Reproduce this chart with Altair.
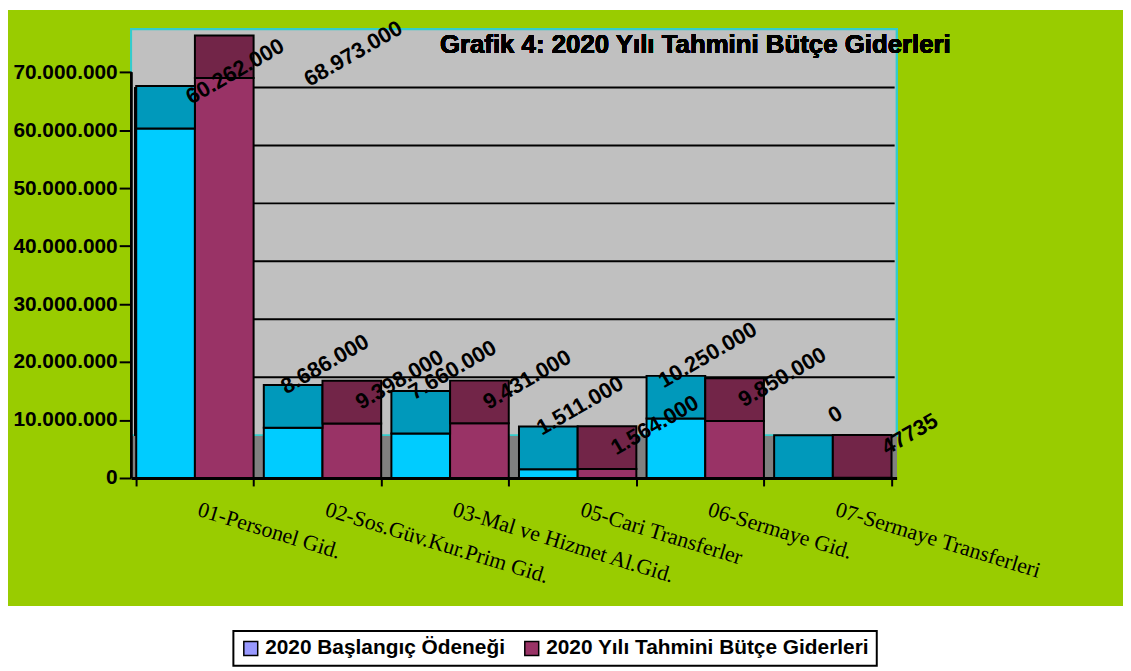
import math
import altair as alt
import pandas as pd

CATEGORIES = [
    "01-Personel Gid.",
    "02-Sos.Güv.Kur.Prim Gid.",
    "03-Mal ve Hizmet Al.Gid.",
    "05-Cari Transferler",
    "06-Sermaye Gid.",
    "07-Sermaye Transferleri",
]
SERIES = ["2020 Başlangıç Ödeneği", "2020 Yılı Tahmini Bütçe Giderleri"]
BASLANGIC = [60262000, 8686000, 7660000, 1511000, 10250000, 0]
TAHMINI = [68973000, 9398000, 9431000, 1564000, 9850000, 47735]
BASLANGIC_LABELS = ["60.262.000", "8.686.000", "7.660.000", "1.511.000", "10.250.000", "0"]
TAHMINI_LABELS = ["68.973.000", "9.398.000", "9.431.000", "1.564.000", "9.850.000", "47735"]
Y_TICKS = [0, 10000000, 20000000, 30000000, 40000000, 50000000, 60000000, 70000000]
TITLE = "Grafik 4: 2020 Yılı Tahmini Bütçe Giderleri"

# ---- styling ----
W, H = 771, 452
YMAX = 77400000
DEPTH_PX = 43
DEPTH = DEPTH_PX * YMAX / H
LABEL_CAP = 60000000          # labels higher than this slide right to stay inside the chart
FRONT = ["#00CCFF", "#993366"]
TOP = ["#0099BB", "#722548"]
LEGEND = ["#9999FF", "#993366"]
SANS = "Liberation Sans"
SERIF = "Liberation Serif"

rows = []
for i, c in enumerate(CATEGORIES):
    rows.append({"category": c, "series": SERIES[0], "value": BASLANGIC[i], "label": BASLANGIC_LABELS[i]})
    rows.append({"category": c, "series": SERIES[1], "value": TAHMINI[i], "label": TAHMINI_LABELS[i]})
df = pd.DataFrame(rows)

grid_df = pd.DataFrame({"tick": Y_TICKS[1:-1]})

yscale = alt.Scale(domain=[0, YMAX], nice=False, zero=True)
xscale = alt.Scale(domain=CATEGORIES, paddingInner=0.08, paddingOuter=0.04)
oscale = alt.Scale(domain=SERIES)

X = alt.X("category:N", scale=xscale, sort=CATEGORIES, title=None,
          axis=alt.Axis(labelFont=SERIF, labelFontSize=22, labelAngle=17, labelAlign="left",
                        labelBaseline="top", labelPadding=13, labelOffset=6, labelColor="black",
                        labelLimit=400, tickColor="black", tickSize=8, tickWidth=2,
                        tickBand="extent", domainColor="black", domainWidth=3, grid=False,
                        zindex=1))
XO = alt.XOffset("series:N", scale=oscale, sort=SERIES)

base = alt.Chart(df)

bg = alt.Chart(df).mark_rect(color="#99CC00").encode(
    x=alt.value(-124), x2=alt.value(W + 228), y=alt.value(-19), y2=alt.value(581))

wall = alt.Chart(df).mark_rect(fill="#C0C0C0", stroke="#33CCCC", strokeWidth=2).encode(
    x=alt.value(0), x2=alt.value(W), y=alt.value(0), y2=alt.value(H - DEPTH_PX))

floor = alt.Chart(df).mark_rect(fill="#808080").encode(
    x=alt.value(0), x2=alt.value(W), y=alt.value(H - DEPTH_PX + 1), y2=alt.value(H))

grid = alt.Chart(grid_df).transform_calculate(gy=f"datum.tick + {DEPTH}").mark_rule(
    color="black", strokeWidth=2).encode(
    y=alt.Y("gy:Q", scale=yscale, title=None), x=alt.value(5), x2=alt.value(W - 2))

sidewall = alt.Chart(df).mark_rule(color="black", strokeWidth=2).encode(
    x=alt.value(4), y=alt.value(59), y2=alt.value(H - DEPTH_PX))

yaxis_line = alt.Chart(df).mark_rule(color="black", strokeWidth=2).encode(
    x=alt.value(0), y=alt.datum(Y_TICKS[-1]), y2=alt.datum(0))

front = base.mark_bar(stroke="black", strokeWidth=2, opacity=1).encode(
    x=X, xOffset=XO,
    y=alt.Y("value:Q", scale=yscale, title=None,
            axis=alt.Axis(values=Y_TICKS, format=",d", labelFont=SANS, labelFontSize=21,
                          labelFontWeight="bold", labelColor="black", tickColor="black",
                          tickSize=12, tickWidth=2, domain=False, grid=False, labelPadding=2,
                          zindex=1)),
    y2=alt.datum(0),
    color=alt.Color("series:N", scale=alt.Scale(domain=SERIES, range=FRONT), legend=None),
)

top = base.transform_calculate(topv=f"datum.value + {DEPTH}").mark_bar(
    stroke="black", strokeWidth=2, opacity=1).encode(
    x=X, xOffset=XO,
    y=alt.Y("value:Q", scale=yscale, title=None),
    y2="topv:Q",
    color=alt.Color("series:N", scale=alt.Scale(domain=SERIES, range=TOP), legend=None),
)


def rot(sx, sy, ang=-30):
    """screen offset -> offset in the rotated text frame"""
    a = math.radians(ang)
    return sx * math.cos(a) + sy * math.sin(a), -sx * math.sin(a) + sy * math.cos(a)


LABEL_ANGLE = 330
labels = []
# (normal screen offset, screen offset when capped)
OFFSETS = [((32, -64), (70, -59)), ((48, -44), (130, -77))]
for s, (norm, capped) in zip(SERIES, OFFSETS):
    ndx, ndy = rot(*norm)
    cdx, cdy = rot(*capped)
    labels.append(
        base.transform_filter(alt.datum.series == s)
        .transform_calculate(ly=f"min(datum.value, {LABEL_CAP})")
        .mark_text(
            angle=LABEL_ANGLE,
            dx=alt.ExprRef(f"datum.value > {LABEL_CAP} ? {cdx:.1f} : {ndx:.1f}"),
            dy=alt.ExprRef(f"datum.value > {LABEL_CAP} ? {cdy:.1f} : {ndy:.1f}"),
            font=SANS, fontSize=22, fontWeight="bold",
            color="black", align="center", baseline="middle").encode(
            x=X, xOffset=XO, y=alt.Y("ly:Q", scale=yscale, title=None), text="label:N")
    )

title = alt.Chart(df).mark_text(text=TITLE, font=SANS, fontSize=26, fontWeight="bold",
                                color="black", align="left", baseline="alphabetic").encode(
    x=alt.value(311), y=alt.value(24))

legend_layer = base.transform_filter("false").mark_square().encode(
    color=alt.Color("series:N", scale=alt.Scale(domain=SERIES, range=LEGEND),
                    legend=alt.Legend(title=None, orient="none", legendX=103, legendY=606,
                                      direction="horizontal")))

chart = alt.layer(bg, wall, floor, grid, sidewall, yaxis_line, front, top, *labels, title,
                  legend_layer).resolve_scale(color="independent").properties(
    width=W, height=H,
    padding={"left": 124, "top": 19, "right": 228, "bottom": 190},
    autosize=alt.AutoSizeParams(type="none"),
).configure(
    locale=alt.Locale(number=alt.NumberLocale(decimal=",", thousands=".", grouping=[3],
                                              currency=["", ""]))
).configure_view(strokeWidth=0).configure_legend(
    labelFont=SANS, labelFontSize=21, labelFontWeight="bold", labelColor="black",
    symbolType="square", symbolSize=196, symbolStrokeColor="black", symbolStrokeWidth=1.5,
    symbolOpacity=1, strokeColor="black", strokeWidth=2, fillColor="white", padding=7,
    columnPadding=16, labelOffset=4, labelLimit=500,
)

chart.save("out.html", embed_options={"renderer": "svg", "actions": False})
